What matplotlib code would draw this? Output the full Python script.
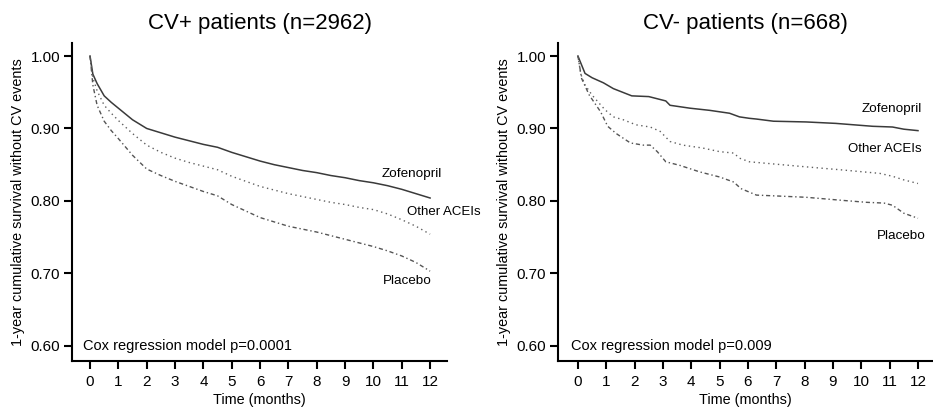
import matplotlib
matplotlib.use("Agg")
import matplotlib.pyplot as plt

plt.rcParams["font.family"] = ["Liberation Sans", "DejaVu Sans"]

# CV+ panel (months -> survival)
cvp_months = [0, 0.1, 0.25, 0.5, 0.75, 1, 1.5, 2, 2.5, 3, 3.5, 4, 4.5, 5, 5.5, 6,
              6.5, 7, 7.5, 8, 8.5, 9, 9.5, 10, 10.5, 11, 11.5, 12]
cvp_zofenopril = [1.0, 0.975, 0.962, 0.945, 0.936, 0.928, 0.912, 0.900, 0.894, 0.888,
                  0.883, 0.878, 0.874, 0.867, 0.861, 0.855, 0.850, 0.846, 0.842, 0.839,
                  0.835, 0.832, 0.828, 0.825, 0.821, 0.816, 0.810, 0.804]
cvp_other = [1.0, 0.970, 0.952, 0.932, 0.921, 0.911, 0.893, 0.877, 0.867, 0.859,
             0.853, 0.848, 0.843, 0.834, 0.827, 0.820, 0.815, 0.810, 0.806, 0.802,
             0.798, 0.795, 0.791, 0.788, 0.782, 0.774, 0.765, 0.754]
cvp_placebo = [1.0, 0.960, 0.932, 0.910, 0.897, 0.886, 0.863, 0.844, 0.835, 0.827,
               0.820, 0.813, 0.807, 0.795, 0.786, 0.777, 0.771, 0.765, 0.761, 0.757,
               0.752, 0.747, 0.742, 0.737, 0.731, 0.724, 0.715, 0.703]

# CV- panel
cvm_zof_t = [0, 0.25, 0.5, 0.9, 1.25, 1.9, 2.5, 3.1, 3.25, 3.95, 4.65, 5.35, 5.7,
             6.05, 6.3, 6.9, 8.05, 9.1, 10.4, 11.1, 11.5, 12.0]
cvm_zofenopril = [1.0, 0.976, 0.970, 0.963, 0.955, 0.945, 0.944, 0.938, 0.932, 0.928,
                  0.925, 0.921, 0.916, 0.914, 0.913, 0.910, 0.909, 0.907, 0.903, 0.902,
                  0.899, 0.897]
cvm_oth_t = [0, 0.1, 0.25, 0.5, 0.7, 0.95, 1.25, 1.6, 2.05, 2.55, 2.9, 3.25, 3.7, 4.4,
             5.0, 5.5, 5.7, 6.05, 6.9, 8.05, 9.25, 10.65, 11.1, 11.5, 12.0]
cvm_other = [1.0, 0.975, 0.960, 0.946, 0.937, 0.926, 0.916, 0.912, 0.905, 0.902, 0.896,
             0.882, 0.877, 0.873, 0.868, 0.866, 0.859, 0.854, 0.851, 0.847, 0.843,
             0.838, 0.834, 0.829, 0.824]
cvm_pla_t = [0, 0.13, 0.4, 0.8, 1.05, 1.35, 1.85, 2.3, 2.55, 2.8, 3.1, 3.6, 4.3, 5.0,
             5.5, 5.75, 6.3, 6.9, 8.05, 9.25, 10.2, 10.8, 11.1, 11.5, 12.0]
cvm_placebo = [1.0, 0.969, 0.946, 0.923, 0.903, 0.893, 0.880, 0.877, 0.877, 0.868,
               0.854, 0.849, 0.840, 0.833, 0.826, 0.817, 0.808, 0.807, 0.805, 0.801,
               0.798, 0.797, 0.794, 0.783, 0.776]

xticks = list(range(13))
yticks = [0.60, 0.70, 0.80, 0.90, 1.00]

fig = plt.figure(figsize=(9.33, 4.09), dpi=100)
ax1 = fig.add_axes([0.0772, 0.1174, 0.402, 0.7775])
ax2 = fig.add_axes([0.598, 0.1174, 0.402, 0.7775])

solid = dict(color="#3a3a3a", lw=1.1, ls="-")
dotted = dict(color="#606060", lw=1.0, ls=(0, (1, 2.5)))
dashdot = dict(color="#555555", lw=1.0, ls=(0, (3, 2, 1, 2)))


def style(ax, xmin, xmax):
    ax.set_xlim(xmin, xmax)
    ax.set_ylim(0.579, 1.018)
    ax.set_xticks(xticks)
    ax.set_yticks(yticks)
    ax.set_yticklabels([f"{v:.2f}" for v in yticks])
    for s in ["top", "right"]:
        ax.spines[s].set_visible(False)
    for s in ["left", "bottom"]:
        ax.spines[s].set_linewidth(1.5)
    ax.tick_params(direction="out", length=6, width=1.5, labelsize=11)
    ax.tick_params(axis="x", pad=4)
    ax.tick_params(axis="y", pad=2.5)
    ax.set_xlabel("Time (months)", fontsize=10.4)
    ax.set_ylabel("1-year cumulative survival without CV events", fontsize=10.4)
    ax.xaxis.set_label_coords(0.5, -0.1)
    ax.yaxis.set_label_coords(-0.125, 0.5)


# left panel
ax1.plot(cvp_months, cvp_zofenopril, **solid)
ax1.plot(cvp_months, cvp_other, **dotted)
ax1.plot(cvp_months, cvp_placebo, **dashdot)
style(ax1, -0.635, 12.6)
ax1.set_title("CV+ patients (n=2962)", fontsize=16, pad=10)
ax1.text(12.42, 0.837, "Zofenopril", ha="right", va="center", fontsize=9.7)
ax1.text(11.19, 0.784, "Other ACEIs", ha="left", va="center", fontsize=9.5, clip_on=False)
ax1.text(12.07, 0.689, "Placebo", ha="right", va="center", fontsize=9.7)
ax1.text(-0.25, 0.60, "Cox regression model p=0.0001", ha="left", va="center", fontsize=10.5)

# right panel
ax2.plot(cvm_zof_t, cvm_zofenopril, **solid)
ax2.plot(cvm_oth_t, cvm_other, **dotted)
ax2.plot(cvm_pla_t, cvm_placebo, **dashdot)
style(ax2, -0.706, 12.53)
ax2.set_title("CV- patients (n=668)", fontsize=16, pad=10)
ax2.text(12.14, 0.927, "Zofenopril", ha="right", va="center", fontsize=9.7)
ax2.text(12.13, 0.872, "Other ACEIs", ha="right", va="center", fontsize=9.5, clip_on=False)
ax2.text(12.27, 0.751, "Placebo", ha="right", va="center", fontsize=9.7)
ax2.text(-0.26, 0.60, "Cox regression model p=0.009", ha="left", va="center", fontsize=10.5)

fig.savefig("out.png", dpi=100)
